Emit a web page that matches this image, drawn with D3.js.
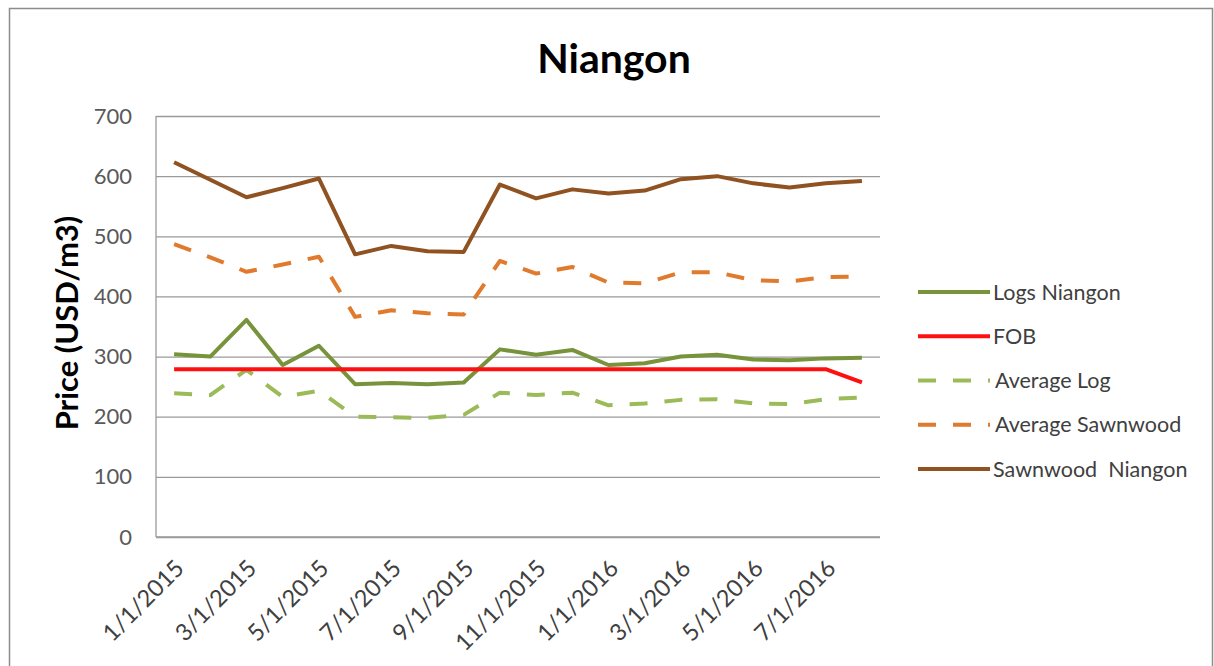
<!DOCTYPE html>
<html>
<head>
<meta charset="utf-8">
<script src="https://cdn.jsdelivr.net/npm/d3@7"></script>
<style>
  html, body { margin: 0; padding: 0; background: #fff; }
  svg { display: block; }
  text { font-family: Lato, "Open Sans", sans-serif; }
</style>
</head>
<body>
<svg id="chart" width="1214" height="666"></svg>
<script>
// ---- Data ----
const dates = [
  "1/1/2015","2/1/2015","3/1/2015","4/1/2015","5/1/2015","6/1/2015","7/1/2015",
  "8/1/2015","9/1/2015","10/1/2015","11/1/2015","12/1/2015","1/1/2016","2/1/2016",
  "3/1/2016","4/1/2016","5/1/2016","6/1/2016","7/1/2016","8/1/2016"
];
const xTickLabels = ["1/1/2015","3/1/2015","5/1/2015","7/1/2015","9/1/2015",
  "11/1/2015","1/1/2016","3/1/2016","5/1/2016","7/1/2016"];
const yTicks = [0, 100, 200, 300, 400, 500, 600, 700];

const logsNiangon     = [304,300,361,286,318,254,256,254,257,312,303,311,286,289,300,303,295,294,297,298];
const fob             = [279,279,279,279,279,279,279,279,279,279,279,279,279,279,279,279,279,279,279,257];
const averageLog      = [239,236,278,233,243,200,199,198,203,240,236,240,219,222,228,229,222,221,229,232];
const averageSawnwood = [487,465,441,453,466,366,377,372,370,459,438,449,423,422,440,440,427,425,432,433];
const sawnwoodNiangon = [623,594,565,580,596,470,484,475,474,586,563,578,571,576,595,600,588,581,588,592];

const seriesNames = ["Logs Niangon","FOB","Average Log","Average Sawnwood","Sawnwood  Niangon"];
const seriesData  = [logsNiangon, fob, averageLog, averageSawnwood, sawnwoodNiangon];
const seriesColor = ["#77933C","#FF1010","#9BBB59","#E07A2C","#8F5220"];
const seriesDash  = [null, null, "18,17", "18,17", null];
// drawing order (back to front)
const drawOrder = [4, 3, 0, 2, 1];

// ---- Layout ----
const svg = d3.select("#chart");
const plot = { left: 156, right: 880, top: 116, bottom: 537 };

const x = d3.scalePoint().domain(dates).range([plot.left, plot.right]).padding(0.5);
const y = d3.scaleLinear().domain([0, 700]).range([plot.bottom, plot.top]);

// outer frame
svg.append("rect")
  .attr("x", 9.5).attr("y", 8.5)
  .attr("width", 1203).attr("height", 670)
  .attr("fill", "none").attr("stroke", "#8c8c8c").attr("stroke-width", 1.5);

// title
svg.append("text")
  .attr("x", 614).attr("y", 73)
  .attr("text-anchor", "middle")
  .attr("font-size", 41).attr("font-weight", "bold")
  .attr("fill", "#000")
  .text("Niangon");

// gridlines + y axis
const yAxis = d3.axisLeft(y).tickValues(yTicks).tickSize(-(plot.right - plot.left)).tickPadding(24);
const gy = svg.append("g").attr("transform", `translate(${plot.left},0)`).call(yAxis);
gy.select(".domain").remove();
gy.selectAll(".tick line").attr("stroke", "#9a9a9a").attr("stroke-width", 1.3);
gy.selectAll(".tick text")
  .attr("font-size", 22).attr("fill", "#595959")
  .attr("font-family", "Lato, 'Open Sans', sans-serif");

// left axis line
svg.append("line")
  .attr("x1", plot.left).attr("x2", plot.left)
  .attr("y1", y(700)).attr("y2", y(0))
  .attr("stroke", "#9a9a9a").attr("stroke-width", 1.3);

// x axis
const xAxis = d3.axisBottom(x).tickValues(xTickLabels).tickSize(0).tickPadding(0);
const gx = svg.append("g").attr("transform", `translate(0,${plot.bottom})`).call(xAxis);
gx.select(".domain").attr("stroke", "#9a9a9a").attr("stroke-width", 1.3)
  .attr("d", `M${plot.left},0H${plot.right}`);
gx.selectAll(".tick text")
  .attr("font-size", 23.5).attr("fill", "#404040")
  .attr("font-family", "Lato, 'Open Sans', sans-serif")
  .attr("text-anchor", "end")
  .attr("dy", "0.35em")
  .attr("transform", "translate(5,27) rotate(-45)")
  .attr("y", 0);

// y axis title
svg.append("text")
  .attr("transform", "translate(67,323) rotate(-90)")
  .attr("text-anchor", "middle")
  .attr("dy", "0.35em")
  .attr("font-size", 31).attr("font-weight", "bold")
  .attr("fill", "#000")
  .text("Price (USD/m3)");

// lines
const line = d3.line().x((d, i) => x(dates[i])).y(d => y(d));
drawOrder.forEach(k => {
  svg.append("path")
    .datum(seriesData[k])
    .attr("d", line)
    .attr("fill", "none")
    .attr("stroke", seriesColor[k])
    .attr("stroke-width", 4)
    .attr("stroke-linejoin", "round")
    .attr("stroke-dasharray", seriesDash[k]);
});

// legend
const legY = d3.scalePoint().domain(seriesNames).range([292, 469]);
const leg = svg.append("g");
seriesNames.forEach((name, k) => {
  const yy = legY(name);
  leg.append("line")
    .attr("x1", 918).attr("x2", 990).attr("y1", yy).attr("y2", yy)
    .attr("stroke", seriesColor[k]).attr("stroke-width", 4)
    .attr("stroke-dasharray", seriesDash[k]);
  leg.append("text")
    .attr("x", seriesDash[k] ? 995 : 993).attr("y", yy)
    .attr("dy", "0.35em")
    .attr("font-size", 21.5).attr("fill", "#404040")
    .attr("xml:space", "preserve")
    .style("white-space", "pre")
    .text(name);
});
</script>
</body>
</html>
